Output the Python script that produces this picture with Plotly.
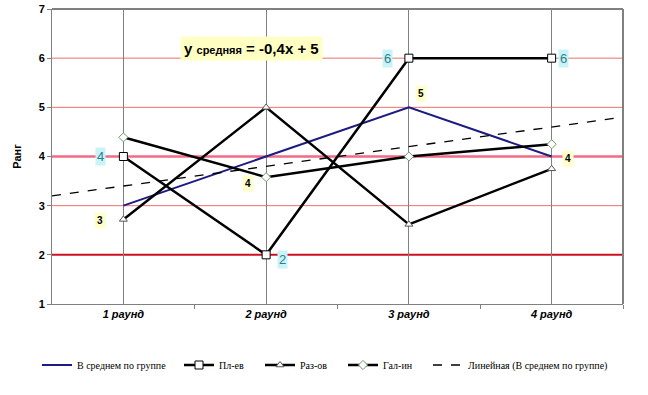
import numpy as np
import plotly.graph_objects as go

rounds = ["1 раунд", "2 раунд", "3 раунд", "4 раунд"]
xpos = [1, 2, 3, 4]
avg_vals = [3, 4, 5, 4]
plev_vals = [4, 2, 6, 6]
razov_vals = [2.72, 5, 2.62, 3.75]
galin_vals = [4.39, 3.58, 4.0, 4.25]
y_ticks = [1, 2, 3, 4, 5, 6, 7]
formula_text = "<b>y</b> <b><span style='font-size:11px'>средняя</span></b> <b>= -0,4x + 5</b>"

# linear trend of the group average
slope, intercept = np.polyfit(xpos, avg_vals, 1)
trend_x = [0.5, 4.5]
trend_y = [slope * t + intercept for t in trend_x]

fig = go.Figure()
fig.add_trace(go.Scatter(x=xpos, y=avg_vals, mode="lines", name="В среднем по группе",
                         line=dict(color="#1c1c80", width=2), legend="legend"))
fig.add_trace(go.Scatter(x=xpos, y=plev_vals, mode="lines+markers", name="Пл-ев",
                         line=dict(color="black", width=2.5), legend="legend2",
                         marker=dict(symbol="square", size=8, color="white",
                                     line=dict(color="black", width=1))))
fig.add_trace(go.Scatter(x=xpos, y=razov_vals, mode="lines+markers", name="Раз-ов",
                         line=dict(color="black", width=2.5), legend="legend3",
                         marker=dict(symbol="triangle-up", size=7, color="white",
                                     line=dict(color="#555555", width=1))))
fig.add_trace(go.Scatter(x=xpos, y=galin_vals, mode="lines+markers", name="Гал-ин",
                         line=dict(color="black", width=2.5), legend="legend4",
                         marker=dict(symbol="diamond", size=7, color="white",
                                     line=dict(color="#6e9a6e", width=1))))
fig.add_trace(go.Scatter(x=trend_x, y=trend_y, mode="lines", legend="legend5",
                         name="Линейная (В среднем по группе)",
                         line=dict(color="black", width=1.3, dash="dash")))
# invisible helper on xaxis2 for the category-boundary tick marks
fig.add_trace(go.Scatter(x=trend_x, y=trend_y, xaxis="x2", mode="lines",
                         line=dict(width=0), showlegend=False, hoverinfo="skip"))

# horizontal guide lines
for lvl in [3, 5, 6]:
    fig.add_shape(type="line", xref="paper", yref="y", x0=0, x1=1, y0=lvl, y1=lvl,
                  line=dict(color="#ee7070", width=1), layer="below")
fig.add_shape(type="line", xref="paper", yref="y", x0=0, x1=1, y0=4, y1=4,
              line=dict(color="#f26a86", width=2.5), layer="below")
fig.add_shape(type="line", xref="paper", yref="y", x0=0, x1=1, y0=2, y1=2,
              line=dict(color="#cc1020", width=2), layer="below")
# top and right frame
fig.add_shape(type="line", xref="paper", yref="paper", x0=0, x1=1, y0=1, y1=1,
              line=dict(color="#808080", width=2))
fig.add_shape(type="line", xref="paper", yref="paper", x0=1, x1=1, y0=0, y1=1,
              line=dict(color="#808080", width=2))

# data labels
plev_shift = [(-23, 0), (16, -5), (-21, 0), (12, 0)]
for xi, v, (dx, dy) in zip(xpos, plev_vals, plev_shift):
    fig.add_annotation(x=xi, y=v, text=str(v), showarrow=False, xshift=dx, yshift=dy,
                       font=dict(family="Arial", size=13, color="#2a7f8f"),
                       bgcolor="#c9f3f6", borderpad=1)
avg_shift = [(-23, -15), (-18, -27), (12, 14), (16, -2)]
for xi, v, (dx, dy) in zip(xpos, avg_vals, avg_shift):
    fig.add_annotation(x=xi, y=v, text="<b>" + str(v) + "</b>", showarrow=False,
                       xshift=dx, yshift=dy,
                       font=dict(family="Arial", size=10, color="black"),
                       bgcolor="#ffffcc", borderpad=2)

fig.add_annotation(xref="paper", x=(251 - 52) / 571, yref="paper", y=1 - (36 - 9) / 295,
                   text=formula_text, showarrow=False,
                   font=dict(family="Arial", size=15, color="black"),
                   bgcolor="#ffffc4", borderpad=3)

legend_font = dict(family="Times New Roman, Liberation Serif, serif", size=10, color="black")
legend_lefts = [37, 179, 260, 343, 428]
leg_y = -(365 - 304) / 295
legends = {}
for i, L in enumerate(legend_lefts):
    key = "legend" if i == 0 else "legend%d" % (i + 1)
    legends[key] = dict(orientation="h", x=(L - 52) / 571, xanchor="left", y=leg_y,
                        yanchor="middle", font=legend_font, itemwidth=30,
                        bgcolor="rgba(0,0,0,0)")

fig.update_layout(
    width=648, height=395,
    margin=dict(l=52, r=25, t=9, b=91, autoexpand=False),
    plot_bgcolor="white", paper_bgcolor="white",
    showlegend=True,
    xaxis=dict(range=[0.5, 4.5], tickvals=xpos, ticktext=rounds, ticks="", automargin=False,
               showgrid=True, gridcolor="#808080", gridwidth=1,
               showline=True, linecolor="#808080", linewidth=1, zeroline=False,
               tickfont=dict(family="Arial", size=11, color="black", weight="bold", style="italic")),
    xaxis2=dict(range=[0.5, 4.5], overlaying="x", side="bottom", tickvals=[1.5, 2.5, 3.5, 4.5],
                ticks="outside", ticklen=4, tickcolor="#808080", showticklabels=False,
                showgrid=False, zeroline=False, showline=False, automargin=False),
    yaxis=dict(range=[1, 7], tickvals=y_ticks, ticks="outside", ticklen=4, tickcolor="#808080",
               showgrid=False, showline=True, linecolor="#808080", linewidth=1, zeroline=False,
               automargin=False,
               tickfont=dict(family="Arial", size=11, color="black", weight="bold"),
               title=dict(text="<b>Ранг</b>", font=dict(family="Arial", size=11, color="black"),
                          standoff=14)),
    **legends,
)

fig.write_html("out.html", config={"displayModeBar": False},
               post_script="document.body.style.margin='0';document.body.style.overflow='hidden';")
